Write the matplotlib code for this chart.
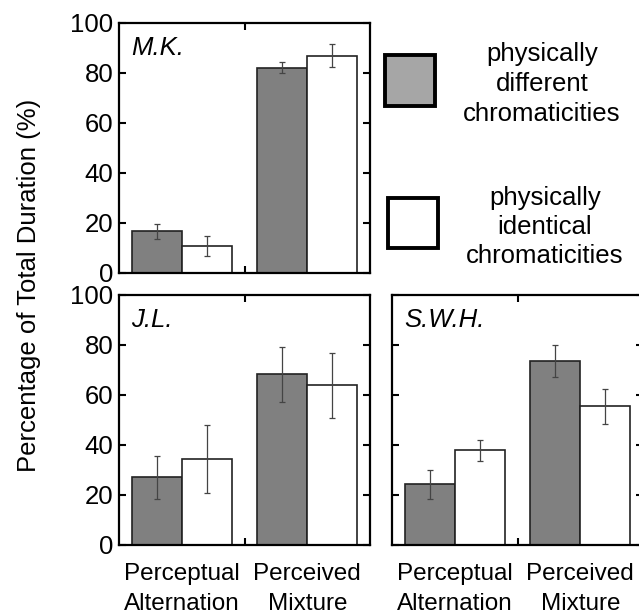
import matplotlib
matplotlib.use("Agg")
import matplotlib.pyplot as plt
from matplotlib.patches import Rectangle

plt.rcParams['font.family'] = ['Liberation Sans', 'DejaVu Sans']

categories = [["Perceptual", "Alternation"], ["Perceived", "Mixture"]]
subjects = ["M.K.", "J.L.", "S.W.H."]
different_vals = {"M.K.": [16.8, 82.2], "J.L.": [27.1, 68.4], "S.W.H.": [24.3, 73.6]}
different_err = {"M.K.": [3.0, 2.3], "J.L.": [8.6, 11.0], "S.W.H.": [5.7, 6.4]}
identical_vals = {"M.K.": [10.8, 87.0], "J.L.": [34.4, 64.0], "S.W.H.": [38.0, 55.5]}
identical_err = {"M.K.": [4.0, 4.5], "J.L.": [13.5, 13.0], "S.W.H.": [4.2, 7.0]}
yticks = [0, 20, 40, 60, 80, 100]
legend_labels = [["physically", "different", "chromaticities"],
                 ["physically", "identical", "chromaticities"]]

W, H = 639, 614
fig = plt.figure(figsize=(W / 100, H / 100), dpi=100)

def ax_rect(x0, y0, x1, y1):
    return [x0 / W, 1 - y1 / H, (x1 - x0) / W, (y1 - y0) / H]

def fy(py):
    return 1 - py / H

rects = {
    "M.K.": ax_rect(119, 23, 370, 273),
    "J.L.": ax_rect(119, 295, 370, 545),
    "S.W.H.": ax_rect(392, 295, 643, 545),
}

FS_TICK = 18.5
FS_CAT = 17.5
FS_LEG = 18.5
bw = 0.4
xs = [1, 2]
for s in subjects:
    ax = fig.add_axes(rects[s])
    ax.bar([x - bw / 2 for x in xs], different_vals[s], width=bw, color="#808080",
           edgecolor="#222222", linewidth=1.2, zorder=2)
    ax.bar([x + bw / 2 for x in xs], identical_vals[s], width=bw, color="white",
           edgecolor="#222222", linewidth=1.2, zorder=2)
    ax.errorbar([x - bw / 2 for x in xs], different_vals[s], yerr=different_err[s],
                fmt="none", ecolor="#444444", elinewidth=0.9, capsize=2, capthick=0.9, zorder=3)
    ax.errorbar([x + bw / 2 for x in xs], identical_vals[s], yerr=identical_err[s],
                fmt="none", ecolor="#444444", elinewidth=0.9, capsize=2, capthick=0.9, zorder=3)
    ax.set_xlim(0.5, 2.5)
    ax.set_ylim(0, 100)
    ax.set_yticks(yticks)
    ax.set_xticks([1.5])
    ax.set_xticklabels([""])
    ax.tick_params(direction="in", length=5, width=1.5, top=True, right=True,
                   labelsize=FS_TICK, pad=4)
    for sp in ax.spines.values():
        sp.set_linewidth(1.6)
    if s == "S.W.H.":
        ax.set_yticklabels([])
    ax.text(0.05, 0.9, s, transform=ax.transAxes, fontsize=FS_TICK, style="italic",
            ha="left", va="center")
    if s != "M.K.":
        for x, lines in zip(xs, categories):
            for line, base in zip(lines, [580, 610]):
                ax.text(x, fy(base), line,
                        transform=matplotlib.transforms.blended_transform_factory(ax.transData, fig.transFigure),
                        ha="center", va="baseline", fontsize=FS_CAT)

fig.text(29 / W, fy(285), "Percentage of Total Duration (%)", rotation=90,
         ha="center", va="center", fontsize=FS_TICK)

# legend
fig.patches.append(Rectangle((385 / W, fy(106)), 50 / W, 51 / H, transform=fig.transFigure,
                             facecolor="#a6a6a6", edgecolor="black", linewidth=2.8))
fig.patches.append(Rectangle((388 / W, fy(248)), 50 / W, 50 / H, transform=fig.transFigure,
                             facecolor="white", edgecolor="black", linewidth=2.8))
for line, base in zip(legend_labels[0], [61, 91, 121]):
    fig.text(542 / W, fy(base), line, ha="center", va="baseline", fontsize=FS_LEG)
for line, base in zip(legend_labels[1], [205, 234, 263]):
    fig.text(545 / W, fy(base), line, ha="center", va="baseline", fontsize=FS_LEG)

fig.savefig("out.png", dpi=100)
